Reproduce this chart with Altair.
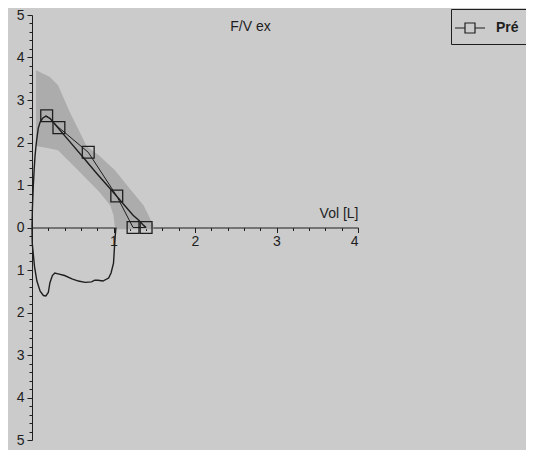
import altair as alt
import pandas as pd

# ---- data ----
# measured expiratory branch (volume L, flow L/s)
exp_vol = [0.0, 0.005, 0.016, 0.027, 0.037, 0.048, 0.058, 0.077, 0.10, 0.13, 0.17,
           0.22, 0.30, 0.45, 0.65, 0.80, 0.96, 1.10, 1.24, 1.31, 1.37, 1.40]
exp_flow = [0.0, 0.45, 0.98, 1.38, 1.68, 1.90, 2.07, 2.34, 2.48, 2.57, 2.62,
            2.57, 2.39, 2.05, 1.60, 1.26, 0.91, 0.60, 0.29, 0.17, 0.05, 0.0]

# measured inspiratory branch (plotted downward)
insp_vol = [0.0, 0.003, 0.03, 0.06, 0.10, 0.14, 0.17, 0.20, 0.22, 0.25, 0.28, 0.32, 0.40,
            0.49, 0.57, 0.65, 0.73, 0.77, 0.81, 0.87, 0.94, 0.97, 1.00, 1.01, 1.02, 1.03]
insp_flow = [0.0, -0.37, -0.91, -1.26, -1.50, -1.60, -1.61, -1.53, -1.30, -1.13, -1.07, -1.09, -1.13,
             -1.21, -1.26, -1.29, -1.28, -1.24, -1.24, -1.26, -1.19, -1.07, -0.84, -0.53, -0.22, 0.0]

# predicted ("Pré") markers
pred_vol = [0.18, 0.33, 0.69, 1.04, 1.24, 1.40]
pred_flow = [2.63, 2.35, 1.77, 0.74, 0.0, 0.0]

# predicted normal range band
band_vol = [0.05, 0.22, 0.32, 0.38, 0.47, 0.59, 0.67, 0.83, 0.96, 1.00, 1.02, 1.20, 1.37, 1.49]
band_hi = [3.70, 3.54, 3.35, 3.08, 2.69, 2.23, 1.91, 1.68, 1.45, 1.38, 1.34, 0.91, 0.52, 0.05]
band_lo = [1.92, 1.86, 1.82, 1.70, 1.53, 1.30, 1.14, 0.83, 0.52, 0.29, -0.04, -0.04, -0.04, -0.04]

# axis ticks
x_major = [1, 2, 3, 4]
x_minor = [0.2, 0.4, 0.6, 0.8, 1.2, 1.4, 1.6, 1.8, 2.2, 2.4, 2.6, 2.8,
           3.2, 3.4, 3.6, 3.8]
y_major = [-5, -4, -3, -2, -1, 0, 1, 2, 3, 4, 5]
y_minor = [v / 5 for v in range(-25, 26) if v % 5 != 0]

series_name = "Pré"

# ---- tables ----
exp_df = pd.DataFrame({"vol": exp_vol, "flow": exp_flow, "i": range(len(exp_vol))})
insp_df = pd.DataFrame({"vol": insp_vol, "flow": insp_flow, "i": range(len(insp_vol))})
pred_df = pd.DataFrame({"vol": pred_vol, "flow": pred_flow, "s": series_name})
band_df = pd.DataFrame({"vol": band_vol, "hi": band_hi, "lo": band_lo})

W, H = 326, 425
INK = "#1e1e1e"
FONT = "Liberation Sans"

xs = alt.Scale(domain=[0, 4], nice=False, zero=False)
ys = alt.Scale(domain=[-5, 5], nice=False, zero=False)

ax_x_major = alt.Axis(orient="bottom", offset=-H / 2, values=x_major, tickSize=5,
                      grid=False, labelFontSize=14, labelFont=FONT, labelColor=INK,
                      domainColor=INK, tickColor=INK, labelPadding=2,
                      title="Vol [L]", titleFont=FONT, titleFontSize=14,
                      titleFontWeight="normal", titleColor=INK, titleAnchor="end",
                      titleAlign="right", titleBaseline="alphabetic", titleX=W, titleY=-10)
ax_x_minor = alt.Axis(orient="bottom", offset=-H / 2, values=x_minor, tickSize=3,
                      grid=False, labels=False, domain=False, tickColor=INK, title=None)
ax_y_major = alt.Axis(orient="left", values=y_major, tickSize=5, grid=False,
                      labelExpr="abs(datum.value)", labelFontSize=14, labelFont=FONT,
                      labelColor=INK, domainColor=INK, tickColor=INK, labelPadding=3,
                      title=None)
ax_y_minor = alt.Axis(orient="left", values=y_minor, tickSize=3, grid=False,
                      labels=False, domain=False, tickColor=INK, title=None)

band = alt.Chart(band_df).mark_area(color="#acacac", opacity=1).encode(
    x=alt.X("vol:Q", scale=xs, axis=ax_x_major),
    y=alt.Y("hi:Q", scale=ys, axis=ax_y_major),
    y2="lo:Q",
)

exp_line = alt.Chart(exp_df).mark_line(color=INK, strokeWidth=1.4).encode(
    x=alt.X("vol:Q", scale=xs, axis=ax_x_minor),
    y=alt.Y("flow:Q", scale=ys, axis=ax_y_minor),
    order="i:Q",
)

insp_line = alt.Chart(insp_df).mark_line(color=INK, strokeWidth=1.4).encode(
    x=alt.X("vol:Q", scale=xs, axis=None),
    y=alt.Y("flow:Q", scale=ys, axis=None),
    order="i:Q",
)

pred_line = alt.Chart(pred_df).mark_line(color=INK, strokeWidth=1.0).encode(
    x=alt.X("vol:Q", scale=xs, axis=None),
    y=alt.Y("flow:Q", scale=ys, axis=None),
)

pred_pts = alt.Chart(pred_df).mark_point(shape="square", filled=False, size=140,
                                         strokeWidth=1.3, opacity=1).encode(
    x=alt.X("vol:Q", scale=xs, axis=None),
    y=alt.Y("flow:Q", scale=ys, axis=None),
    color=alt.Color("s:N", scale=alt.Scale(domain=[series_name], range=[INK]),
                    legend=alt.Legend(
                        title=None, orient="none", legendX=419, legendY=-6,
                        padding=8, strokeColor=INK, cornerRadius=0,
                        symbolType="M-1.5,0H-0.5M0.5,0H1.5M-0.5,-0.5H0.5V0.5H-0.5Z",
                        symbolSize=400, symbolStrokeWidth=1.2,
                        symbolFillColor="transparent", symbolStrokeColor=INK,
                        labelOffset=15, labelFont=FONT, labelFontSize=14,
                        labelColor=INK, labelFontWeight="bold")),
)

chart = alt.layer(band, exp_line, insp_line, pred_line, pred_pts).resolve_axis(
    x="independent", y="independent"
).properties(
    width=W, height=H,
    background="#cbcbcb",
    autosize=alt.AutoSizeParams(type="none"),
    padding={"left": 24, "top": 7, "right": 168, "bottom": 10},
    title=alt.TitleParams(text="F/V ex", anchor="start", dx=214, dy=30,
                          font=FONT, fontSize=14, fontWeight="normal", color=INK),
).configure_view(stroke=None)

chart.save("out.html", embed_options={"renderer": "svg", "actions": False})
